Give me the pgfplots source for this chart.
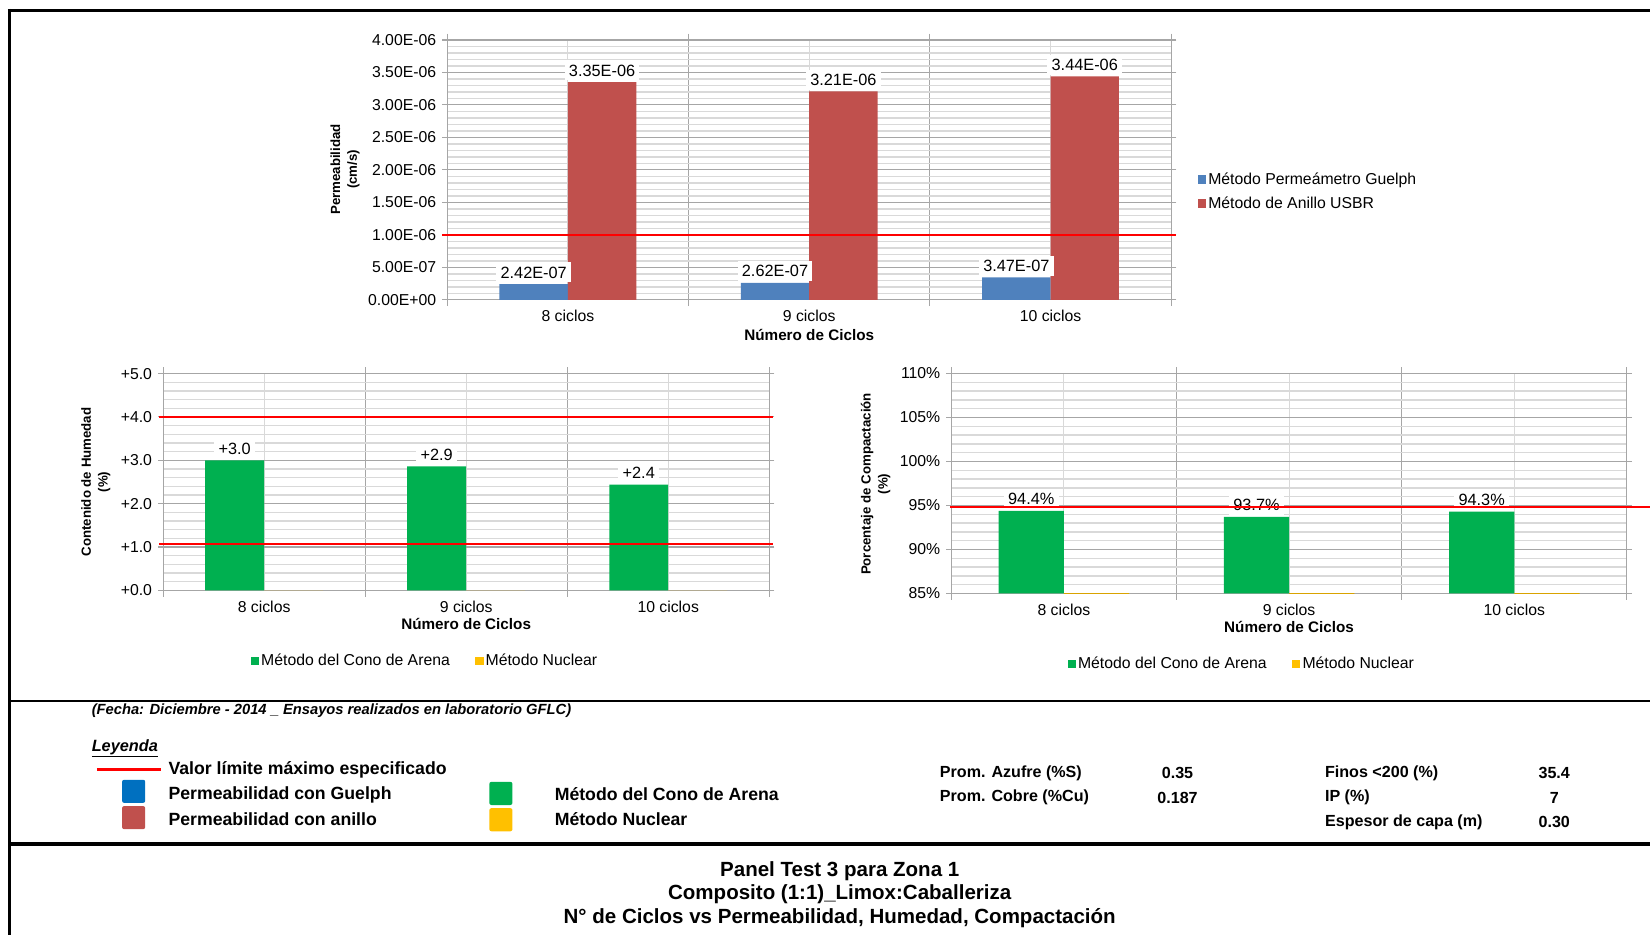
\documentclass[border=0pt]{standalone}
\usepackage{fontspec}
\setmainfont{Liberation Sans}
\usepackage{pgfplots}
\pgfplotsset{compat=1.18}

\definecolor{guelph}{HTML}{4F81BD}
\definecolor{anillo}{HTML}{C0504D}
\definecolor{cono}{HTML}{00B050}
\definecolor{nuclear}{HTML}{FFC000}
\definecolor{legblue}{HTML}{0070C0}
\definecolor{gridmaj}{HTML}{A6A6A6}
\definecolor{gridmin}{HTML}{D9D9D9}

\newcommand{\fs}[2]{\fontsize{#1}{#2}\selectfont}

\pgfplotsset{
  excel/.style={
    scale only axis, anchor=south west,
    xmin=-0.5, xmax=2.5,
    xtick={0,1,2}, xticklabels={8 ciclos,9 ciclos,10 ciclos},
    minor xtick={-0.5,0.5,1.5,2.5},
    minor y tick num=4,
    xmajorgrids, xminorgrids, ymajorgrids, yminorgrids,
    major x grid style={gridmin, line width=1pt},
    minor x grid style={gridmaj, line width=1pt},
    major y grid style={gridmaj, line width=1pt},
    minor y grid style={gridmin, line width=1.3pt},
    axis line style={gridmaj, line width=1pt},
    tick align=outside, major tick length=5pt, minor tick length=6pt,
    tick style={gridmaj, line width=1pt},
    major x tick style={draw=none},
    minor y tick style={draw=none},
    tick label style={font=\fs{15}{17}},
    yticklabel style={xshift=-2pt},
    xticklabel style={yshift=-1.5pt},
    xlabel style={font=\bfseries\fs{14.5}{17}, anchor=center},
    ylabel style={font=\bfseries\fs{12.6}{16}, anchor=center, align=center},
    legend style={draw=none, fill=none, font=\fs{15}{17}, legend cell align=left},
    legend image code/.code={\fill[##1, draw=none] (0pt,-4pt) rectangle (8pt,4pt);},
    every node near coord/.append style={fill=white, inner sep=4pt, font=\fs{15.5}{17}, yshift=1.5pt},
  },
}

\begin{document}
\begin{tikzpicture}
\useasboundingbox (0,0) rectangle (1568pt,889pt);

% ---- permeabilidad
\begin{axis}[excel, clip=false,
  at={(425pt,604pt)}, width=688pt, height=247pt,
  ymin=0, ymax=4e-6, scaled y ticks=false,
  ytick={0,5e-7,1e-6,1.5e-6,2e-6,2.5e-6,3e-6,3.5e-6,4e-6},
  yticklabels={0.00E+00,5.00E-07,1.00E-06,1.50E-06,2.00E-06,2.50E-06,3.00E-06,3.50E-06,4.00E-06},
  ylabel={Permeabilidad\\(cm/s)},
  ylabel style={at={(axis description cs:-0.141,0.502)}},
  xlabel={Número de Ciclos},
  xlabel style={at={(axis description cs:0.5,-0.134)}},
  legend style={at={(1.032,0.417)}, anchor=west, row sep=6pt},
]
\addplot[ybar, bar width=65pt, bar shift=-32.5pt, fill=guelph, draw=none,
  nodes near coords, point meta=explicit symbolic,
  every node near coord/.append style={xshift=-32.5pt}]
  coordinates {(0,2.42e-7) [2.42E-07] (1,2.62e-7) [2.62E-07] (2,3.47e-7) [3.47E-07]};
\addlegendentry{Método Permeámetro Guelph}
\addplot[ybar, bar width=65pt, bar shift=32.5pt, fill=anillo, draw=none,
  nodes near coords, point meta=explicit symbolic,
  every node near coord/.append style={xshift=32.5pt}]
  coordinates {(0,3.35e-6) [3.35E-06] (1,3.21e-6) [3.21E-06] (2,3.44e-6) [3.44E-06]};
\addlegendentry{Método de Anillo USBR}
\addplot[red, line width=2pt, forget plot] coordinates {(-0.52,1e-6) (2.52,1e-6)};
\end{axis}

% ---- humedad
\begin{axis}[excel, clip=false,
  at={(155pt,328pt)}, width=576pt, height=206pt,
  ymin=0, ymax=5, ytick={0,1,2,3,4,5},
  yticklabels={+0.0,+1.0,+2.0,+3.0,+4.0,+5.0},
  ylabel={Contenido de Humedad\\(\%)},
  ylabel style={at={(axis description cs:-0.111,0.5)}},
  xlabel={Número de Ciclos},
  xlabel style={at={(axis description cs:0.5,-0.155)}},
  legend columns=2,
  legend style={at={(0.432,-0.325)}, anchor=center,
    /tikz/every even column/.append style={column sep=22pt}},
]
\addplot[ybar, bar width=56pt, bar shift=-28pt, fill=cono, draw=none,
  nodes near coords, point meta=explicit symbolic,
  every node near coord/.append style={xshift=-28pt}]
  coordinates {(0,3.0) [+3.0] (1,2.86) [+2.9] (2,2.44) [+2.4]};
\addlegendentry{Método del Cono de Arena}
\addplot[ybar, bar width=56pt, bar shift=28pt, fill=nuclear, draw=none]
  coordinates {(0,0) (1,0) (2,0)};
\addlegendentry{Método Nuclear}
\addplot[red, line width=2pt, forget plot] coordinates {(-0.52,4) (2.52,4)};
\addplot[red, line width=2pt, forget plot] coordinates {(-0.52,1.07) (2.52,1.07)};
\end{axis}

% ---- compactacion
\begin{axis}[excel,
  at={(904pt,325pt)}, width=642pt, height=209pt,
  ymin=85, ymax=110, ytick={85,90,95,100,105,110},
  yticklabels={85\%,90\%,95\%,100\%,105\%,110\%},
  ylabel={Porcentaje de Compactación\\(\%)},
  ylabel style={at={(axis description cs:-0.112,0.498)}},
  xlabel={Número de Ciclos},
  xlabel style={at={(axis description cs:0.5,-0.153)}},
  legend columns=2,
  legend style={at={(0.43,-0.32)}, anchor=center,
    /tikz/every even column/.append style={column sep=22pt}},
]
\addplot[ybar, bar width=62pt, bar shift=-31pt, fill=cono, draw=none,
  nodes near coords, point meta=explicit symbolic,
  every node near coord/.append style={xshift=-31pt}]
  coordinates {(0,94.4) [94.4\%] (1,93.7) [93.7\%] (2,94.3) [94.3\%]};
\addlegendentry{Método del Cono de Arena}
\addplot[ybar, bar width=62pt, bar shift=31pt, fill=nuclear, draw=nuclear!85!black, line width=1.5pt]
  coordinates {(0,85) (1,85) (2,85)};
\addlegendentry{Método Nuclear}
\end{axis}
% limite de compactacion, sin recorte para que llegue al borde
\begin{axis}[scale only axis, anchor=south west, hide axis, clip=false,
  at={(904pt,325pt)}, width=642pt, height=209pt,
  xmin=-0.5, xmax=2.5, ymin=85, ymax=110]
\addplot[red, line width=2pt] coordinates {(-0.505,94.8) (2.61,94.8)};
\end{axis}

% ---- marco, leyenda y titulo
\begin{scope}[x=1pt, y=-1pt, yshift=889pt]
\draw[line width=3pt] (7.5,10) -- (1568,10);
\draw[line width=2.5pt] (9,8.5) -- (9,889);
\draw[line width=2pt] (9,666) -- (1568,666);
\draw[line width=4pt] (9,802) -- (1568,802);

\node[anchor=west, inner sep=0pt, font=\bfseries\itshape\fs{14}{16}] at (87,675)
  {(Fecha: Diciembre - 2014 \_ Ensayos realizados en laboratorio GFLC)};
\node[anchor=west, inner sep=0pt, font=\bfseries\itshape\fs{15.5}{17}] at (87,711) {\underline{Leyenda}};

\begin{scope}[every node/.style={anchor=west, inner sep=0pt, font=\bfseries\fs{16.8}{19}}]
\draw[red, line width=2.5pt] (92,731) -- (153,731);
\node at (160,732) {Valor límite máximo especificado};
\fill[legblue, rounded corners=2pt] (116,741) rectangle (138,763);
\node at (160,755) {Permeabilidad con Guelph};
\fill[anillo, rounded corners=2pt] (116,766) rectangle (138,788);
\node at (160,778) {Permeabilidad con anillo};
\fill[cono, rounded corners=2pt] (465,743) rectangle (487,765);
\node at (527,755) {Método del Cono de Arena};
\fill[nuclear, rounded corners=2pt] (465,768) rectangle (487,790);
\node at (527,778) {Método Nuclear};
\end{scope}

\begin{scope}[every node/.style={inner sep=0pt, font=\bfseries\fs{15.3}{18}}]
\node[anchor=west] at (893,735) {Prom. Azufre (\%S)};
\node[anchor=west] at (893,758) {Prom. Cobre (\%Cu)};
\node at (1119,735) {0.35};
\node at (1119,758) {0.187};
\node[anchor=west] at (1259,735) {Finos <200 (\%)};
\node[anchor=west] at (1259,758) {IP (\%)};
\node[anchor=west] at (1259,781) {Espesor de capa (m)};
\node at (1477,735) {35.4};
\node at (1477,758) {7};
\node at (1477,781) {0.30};
\end{scope}

\begin{scope}[every node/.style={inner sep=0pt, font=\bfseries\fs{19.5}{22}}]
\node at (798,828) {Panel Test 3 para Zona 1};
\node at (798,850) {Composito (1:1)\_Limox:Caballeriza};
\node at (798,872) {N° de Ciclos vs Permeabilidad, Humedad, Compactación};
\end{scope}
\end{scope}
\end{tikzpicture}
\end{document}
